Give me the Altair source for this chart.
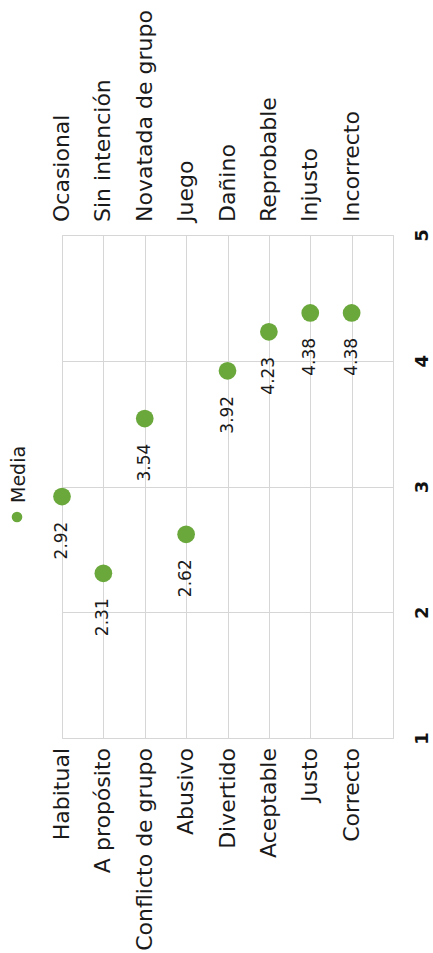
import altair as alt
import pandas as pd

# Semantic differential: mean score per adjective pair (scale 1-5)
left_terms = ["Habitual", "A propósito", "Conflicto de grupo", "Abusivo",
              "Divertido", "Aceptable", "Justo", "Correcto"]
right_terms = ["Ocasional", "Sin intención", "Novatada de grupo", "Juego",
               "Dañino", "Reprobable", "Injusto", "Incorrecto"]
means = [2.92, 2.31, 3.54, 2.62, 3.92, 4.23, 4.38, 4.38]
scale_ticks = [1, 2, 3, 4, 5]

df = pd.DataFrame({
    "idx": list(range(len(left_terms))),
    "left": left_terms,
    "right": right_terms,
    "media": means,
})
df["label"] = df["media"].map(lambda v: f"{v:.2f}")

W, H = 331, 503
FONT = "DejaVu Sans"
GREEN = "#6aa83c"
TEXT = "#1a1a1a"

x = alt.X("idx:Q", scale=alt.Scale(domain=[0, 8], nice=False, zero=False),
          axis=alt.Axis(values=list(range(9)), grid=True, labels=False,
                        ticks=False, domain=False, title=None,
                        gridColor="#d6d6d6", gridWidth=1))
y = alt.Y("media:Q", scale=alt.Scale(domain=[1, 5], nice=False, zero=False),
          axis=alt.Axis(orient="right", values=scale_ticks, format="d",
                        grid=True, ticks=False, domain=False, title=None,
                        gridColor="#d6d6d6", gridWidth=1,
                        labelAngle=270, labelAlign="center",
                        labelBaseline="middle", labelPadding=29,
                        labelFont=FONT, labelFontSize=18,
                        labelFontWeight="bold", labelColor="#111111"))

base = alt.Chart(df)

points = base.mark_circle(size=314, opacity=1, color=GREEN).encode(x=x, y=y)

values = base.mark_text(angle=270, align="right", baseline="middle",
                        font=FONT, fontSize=17, color=TEXT).encode(
    x="idx:Q", y="media:Q", yOffset=alt.value(25), text="label:N")

left_labels = base.mark_text(angle=270, align="right", baseline="middle",
                             font=FONT, fontSize=22, color=TEXT).encode(
    x="idx:Q", y=alt.value(H + 10), text="left:N")

right_labels = base.mark_text(angle=270, align="left", baseline="middle",
                              font=FONT, fontSize=22, color=TEXT).encode(
    x="idx:Q", y=alt.value(-13), text="right:N")

legend_df = pd.DataFrame({"name": ["Media"]})
legend_dot = alt.Chart(legend_df).mark_circle(size=113, opacity=1, color=GREEN).encode(
    x=alt.value(-45), y=alt.value(282))
legend_text = alt.Chart(legend_df).mark_text(
    angle=270, align="left", baseline="middle", font=FONT, fontSize=19,
    color=TEXT).encode(x=alt.value(-43), y=alt.value(268), text="name:N")

chart = alt.layer(points, values, left_labels, right_labels,
                  legend_dot, legend_text).properties(
    width=W, height=H,
    autosize=alt.AutoSizeParams(type="none"),
    padding={"left": 62, "top": 235, "right": 40, "bottom": 215},
).configure_view(stroke=None).configure(background="white")

chart.save("out.html", embed_options={"renderer": "svg", "actions": False})
